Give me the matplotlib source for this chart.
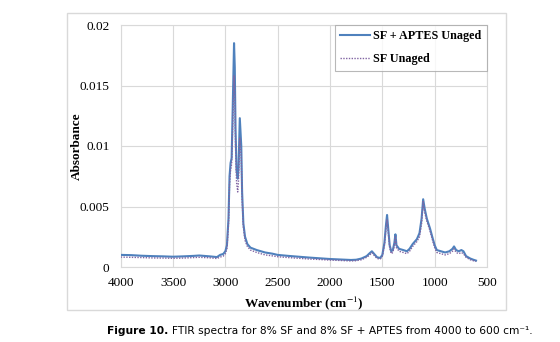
import matplotlib
matplotlib.use("Agg")
import matplotlib.pyplot as plt
from matplotlib.patches import Rectangle

# wavenumber (cm-1) and absorbance
wavenumber = [4000, 3900, 3800, 3700, 3600, 3500, 3400, 3300, 3250, 3150,
              3080, 3050, 3020, 3000, 2985, 2970, 2960, 2950, 2940, 2930,
              2917, 2910, 2903, 2893, 2882, 2874, 2862, 2848, 2840, 2828,
              2812, 2790, 2760, 2700, 2620, 2550, 2500, 2400, 2300, 2200,
              2100, 2000, 1900, 1800, 1750, 1700, 1650, 1620, 1600, 1580,
              1550, 1520, 1500, 1480, 1465, 1455, 1445, 1430, 1415, 1400,
              1385, 1375, 1365, 1340, 1300, 1265, 1240, 1210, 1170, 1145,
              1125, 1110, 1095, 1075, 1045, 1020, 1000, 980, 940, 900,
              860, 830, 815, 795, 770, 745, 725, 700, 660, 630, 605]

sf_aptes = [0.00100, 0.00098, 0.00093, 0.00090, 0.00088, 0.00085, 0.00088, 0.00092, 0.00095, 0.00088,
            0.00082, 0.00100, 0.00108, 0.00130, 0.00180, 0.00400, 0.00750, 0.00860, 0.00900, 0.01300,
            0.01850, 0.01650, 0.01150, 0.00800, 0.00730, 0.00820, 0.01230, 0.01000, 0.00620, 0.00360,
            0.00250, 0.00190, 0.00160, 0.00140, 0.00120, 0.00110, 0.00100, 0.00092, 0.00085, 0.00078,
            0.00072, 0.00066, 0.00062, 0.00058, 0.00060, 0.00070, 0.00090, 0.00115, 0.00130, 0.00110,
            0.00080, 0.00075, 0.00100, 0.00200, 0.00350, 0.00430, 0.00330, 0.00180, 0.00130, 0.00140,
            0.00200, 0.00270, 0.00180, 0.00150, 0.00140, 0.00130, 0.00150, 0.00190, 0.00230, 0.00280,
            0.00400, 0.00560, 0.00480, 0.00400, 0.00320, 0.00240, 0.00180, 0.00140, 0.00130, 0.00120,
            0.00130, 0.00150, 0.00170, 0.00140, 0.00130, 0.00140, 0.00130, 0.00090, 0.00070, 0.00060, 0.00053]

sf = [0.00082, 0.00080, 0.00078, 0.00075, 0.00074, 0.00072, 0.00074, 0.00078, 0.00080, 0.00076,
      0.00070, 0.00082, 0.00090, 0.00110, 0.00150, 0.00350, 0.00680, 0.00800, 0.00850, 0.01150,
      0.01580, 0.01450, 0.01000, 0.00700, 0.00620, 0.00720, 0.01070, 0.00900, 0.00560, 0.00330,
      0.00220, 0.00170, 0.00140, 0.00120, 0.00100, 0.00092, 0.00085, 0.00078, 0.00072, 0.00066,
      0.00062, 0.00057, 0.00054, 0.00050, 0.00052, 0.00060, 0.00080, 0.00100, 0.00118, 0.00098,
      0.00070, 0.00066, 0.00090, 0.00180, 0.00320, 0.00390, 0.00300, 0.00160, 0.00110, 0.00120,
      0.00180, 0.00250, 0.00160, 0.00130, 0.00120, 0.00110, 0.00130, 0.00170, 0.00210, 0.00250,
      0.00360, 0.00540, 0.00450, 0.00380, 0.00300, 0.00220, 0.00160, 0.00120, 0.00110, 0.00100,
      0.00110, 0.00130, 0.00150, 0.00120, 0.00110, 0.00120, 0.00110, 0.00080, 0.00060, 0.00052, 0.00046]

x_ticks = [4000, 3500, 3000, 2500, 2000, 1500, 1000, 500]
y_ticks = [0, 0.005, 0.01, 0.015, 0.02]
y_tick_labels = ["0", "0.005", "0.01", "0.015", "0.02"]

serif = "Liberation Serif"
grid_col = "#d9d9d9"
plt.rcParams["mathtext.fontset"] = "stix"

fig = plt.figure(figsize=(5.6, 3.42), dpi=100)
fig.patches.append(Rectangle((67 / 560, 1 - 310 / 342), (506 - 67) / 560, (310 - 13) / 342,
                             transform=fig.transFigure, fill=False, edgecolor="#d9d9d9", lw=1))

ax = fig.add_axes([120.7 / 560, 1 - 267 / 342, (487 - 120.7) / 560, (267 - 25) / 342])
ax.plot(wavenumber, sf_aptes, color="#4f81bd", lw=1.5, label="SF + APTES Unaged", zorder=3)
ax.plot(wavenumber, sf, color="#8064a2", lw=1.0, ls=(0, (1, 1)), label="SF Unaged", zorder=4)

ax.set_xlim(4000, 500)
ax.set_ylim(0, 0.02)
ax.set_xticks(x_ticks)
ax.set_xticklabels([str(t) for t in x_ticks], fontfamily=serif, fontsize=9.5)
ax.set_yticks(y_ticks)
ax.set_yticklabels(y_tick_labels, fontfamily=serif, fontsize=9.5)
ax.tick_params(axis="y", length=0, pad=8)
ax.tick_params(axis="x", length=0, pad=7)
ax.grid(True, color=grid_col, lw=0.8)
ax.set_axisbelow(True)
for s in ax.spines.values():
    s.set_color(grid_col)
    s.set_linewidth(0.8)

ax.set_xlabel("Wavenumber (cm$^{-1}$)", fontfamily=serif, fontsize=9.5, fontweight="bold")
ax.set_ylabel("Absorbance", fontfamily=serif, fontsize=9.5, fontweight="bold")
ax.xaxis.set_label_coords(0.5, -0.112)
ax.yaxis.set_label_coords(-0.103, 0.5)

leg = ax.legend(loc="upper right", prop={"family": serif, "size": 8.7, "weight": "bold"},
                frameon=True, fancybox=False, borderaxespad=0, handlelength=2.5,
                labelspacing=0.9, borderpad=0.45, handletextpad=0.25)
leg.get_frame().set_edgecolor("#a6a6a6")
leg.get_frame().set_linewidth(0.8)

# caption: bold label followed by normal text
cap_y = 1 - 331 / 342
t1 = fig.text(107 / 560, cap_y, "Figure 10.", ha="left", va="center",
              fontsize=7.7, fontweight="bold", fontfamily="DejaVu Sans")
fig.canvas.draw()
bb = t1.get_window_extent()
fig.text((bb.x1 + 4) / 560, cap_y,
         "FTIR spectra for 8% SF and 8% SF + APTES from 4000 to 600 cm\u207b\u00b9.",
         ha="left", va="center", fontsize=7.7, fontfamily="DejaVu Sans")

fig.savefig("out.png", dpi=100)
